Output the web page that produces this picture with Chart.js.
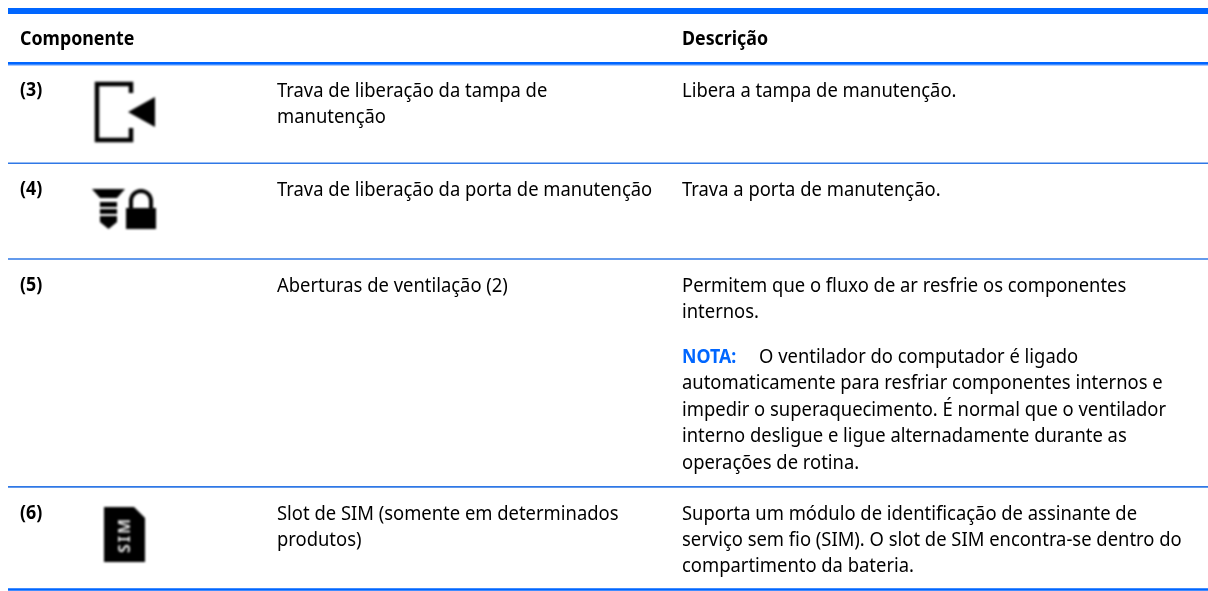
<!DOCTYPE html>
<html><head><meta charset="utf-8">
<style>html,body{margin:0;padding:0;background:#fff}#w{position:relative;width:1208px;height:591px}</style>
<script src="https://cdn.jsdelivr.net/npm/chart.js@4/dist/chart.umd.min.js"></script>
</head><body><div id="w"><canvas id="c" width="1208" height="591"></canvas></div>
<script>
// table content
const headers = ["Componente", "Descrição"];
const rowIds = ["(3)", "(4)", "(5)", "(6)"];
const components = [
  ["Trava de liberação da tampa de", "manutenção"],
  ["Trava de liberação da porta de manutenção"],
  ["Aberturas de ventilação (2)"],
  ["Slot de SIM (somente em determinados", "produtos)"]
];
const descriptions = [
  ["Libera a tampa de manutenção."],
  ["Trava a porta de manutenção."],
  ["Permitem que o fluxo de ar resfrie os componentes", "internos."],
  ["Suporta um módulo de identificação de assinante de", "serviço sem fio (SIM). O slot de SIM encontra-se dentro do", "compartimento da bateria."]
];
const noteLabel = "NOTA:";
const noteLines = [
  "O ventilador do computador é ligado",
  "automaticamente para resfriar componentes internos e",
  "impedir o superaquecimento. É normal que o ventilador",
  "interno desligue e ligue alternadamente durante as",
  "operações de rotina."
];
// layout
const ruleYs = [11, 63.3, 65.5, 163.3, 259, 486.9, 589.5];
const ruleWidths = [6, 2.7, 1, 1.4, 1.4, 1.6, 2.4];
const ruleColors = ["#0066ff", "#0066ff", "#a9c9ff", "#2f78e6", "#2f78e6", "#2f78e6", "#0066ff"];
const rowBaselines = [97, 196, 292, 519.5];
const noteBaseline = 363;
const lineStep = 26.4;
const BLUE = "#0066ff";
const REG = '20px "Noto Sans"', BOLD = 'bold 20px "Noto Sans"';
const XS = 0.92, XSB = 0.89;

const tablePlugin = {
  id: "table",
  afterDatasetsDraw(chart) {
    const c = chart.ctx, X = v => chart.scales.x.getPixelForValue(v), Y = v => chart.scales.y.getPixelForValue(v);
    c.save();
    c.textBaseline = "alphabetic"; c.textAlign = "left";
    const put = (s, x, y, font, col) => {
      c.save(); c.translate(X(x), Y(y)); c.scale(font === BOLD ? XSB : XS, 1);
      c.font = font; c.fillStyle = col || "#000"; c.fillText(s, 0, 0); c.restore();
    };
    put(headers[0], 20, 45, BOLD);
    put(headers[1], 682, 45, BOLD);
    rowIds.forEach((id, i) => {
      put(id, 20, rowBaselines[i] - 1, BOLD);
      components[i].forEach((s, k) => put(s, 277, rowBaselines[i] + k * lineStep, REG));
      descriptions[i].forEach((s, k) => put(s, 682, rowBaselines[i] + k * lineStep, REG));
    });
    put(noteLabel, 682, noteBaseline, BOLD, BLUE);
    noteLines.forEach((s, k) => put(s, k === 0 ? 759 : 682, noteBaseline + k * lineStep, REG));

    // icons
    c.filter = "blur(0.8px)";
    c.fillStyle = "#000"; c.strokeStyle = "#000";
    // (3) door with arrow
    c.lineWidth = 4.5;
    c.beginPath(); c.moveTo(X(131), Y(93)); c.lineTo(X(131), Y(84)); c.lineTo(X(97), Y(84)); c.lineTo(X(97), Y(140)); c.lineTo(X(131), Y(140)); c.lineTo(X(131), Y(128)); c.stroke();
    c.beginPath(); c.moveTo(X(128), Y(112)); c.lineTo(X(155), Y(97)); c.lineTo(X(155), Y(127)); c.fill();
    // (4) funnel
    c.beginPath(); c.moveTo(X(92), Y(189)); c.lineTo(X(125), Y(189)); c.lineTo(X(117), Y(198)); c.lineTo(X(100), Y(198)); c.fill();
    c.fillRect(X(100), Y(202), 17, 5);
    c.fillRect(X(100), Y(209), 17, 5);
    c.beginPath(); c.moveTo(X(100), Y(216)); c.lineTo(X(117), Y(216)); c.lineTo(X(117), Y(222)); c.lineTo(X(108.5), Y(229)); c.lineTo(X(100), Y(222)); c.fill();
    // (4) lock
    c.lineWidth = 4;
    c.beginPath(); c.moveTo(X(131), Y(210)); c.lineTo(X(131), Y(201)); c.arc(X(141), Y(201), 10, Math.PI, 0); c.lineTo(X(151), Y(210)); c.stroke();
    c.fillRect(X(126), Y(208), 30, 21);
    // (6) SIM card
    c.beginPath(); c.moveTo(X(104), Y(507)); c.lineTo(X(134), Y(507)); c.lineTo(X(145), Y(518)); c.lineTo(X(145), Y(562)); c.lineTo(X(104), Y(562)); c.closePath(); c.fill();
    c.filter = "blur(0.8px)";
    c.translate(X(125), Y(535)); c.rotate(-Math.PI / 2);
    c.font = 'bold 16px "Noto Sans"'; c.letterSpacing = "2px"; c.fillStyle = "#ddd"; c.textAlign = "center"; c.textBaseline = "middle";
    c.fillText("SIM", 0, 0);
    c.restore();
  }
};

new Chart(document.getElementById("c"), {
  type: "scatter",
  data: { datasets: ruleYs.map((y, i) => ({
    data: [{ x: 8, y }, { x: 1208, y }],
    showLine: true, pointRadius: 0, borderWidth: ruleWidths[i],
    borderColor: ruleColors[i]
  })) },
  options: {
    responsive: false, animation: false, layout: { padding: 0 },
    plugins: { legend: { display: false }, tooltip: { enabled: false } },
    scales: {
      x: { type: "linear", min: 0, max: 1208, display: false },
      y: { type: "linear", min: 0, max: 591, reverse: true, display: false }
    }
  },
  plugins: [tablePlugin]
});
</script></body></html>
